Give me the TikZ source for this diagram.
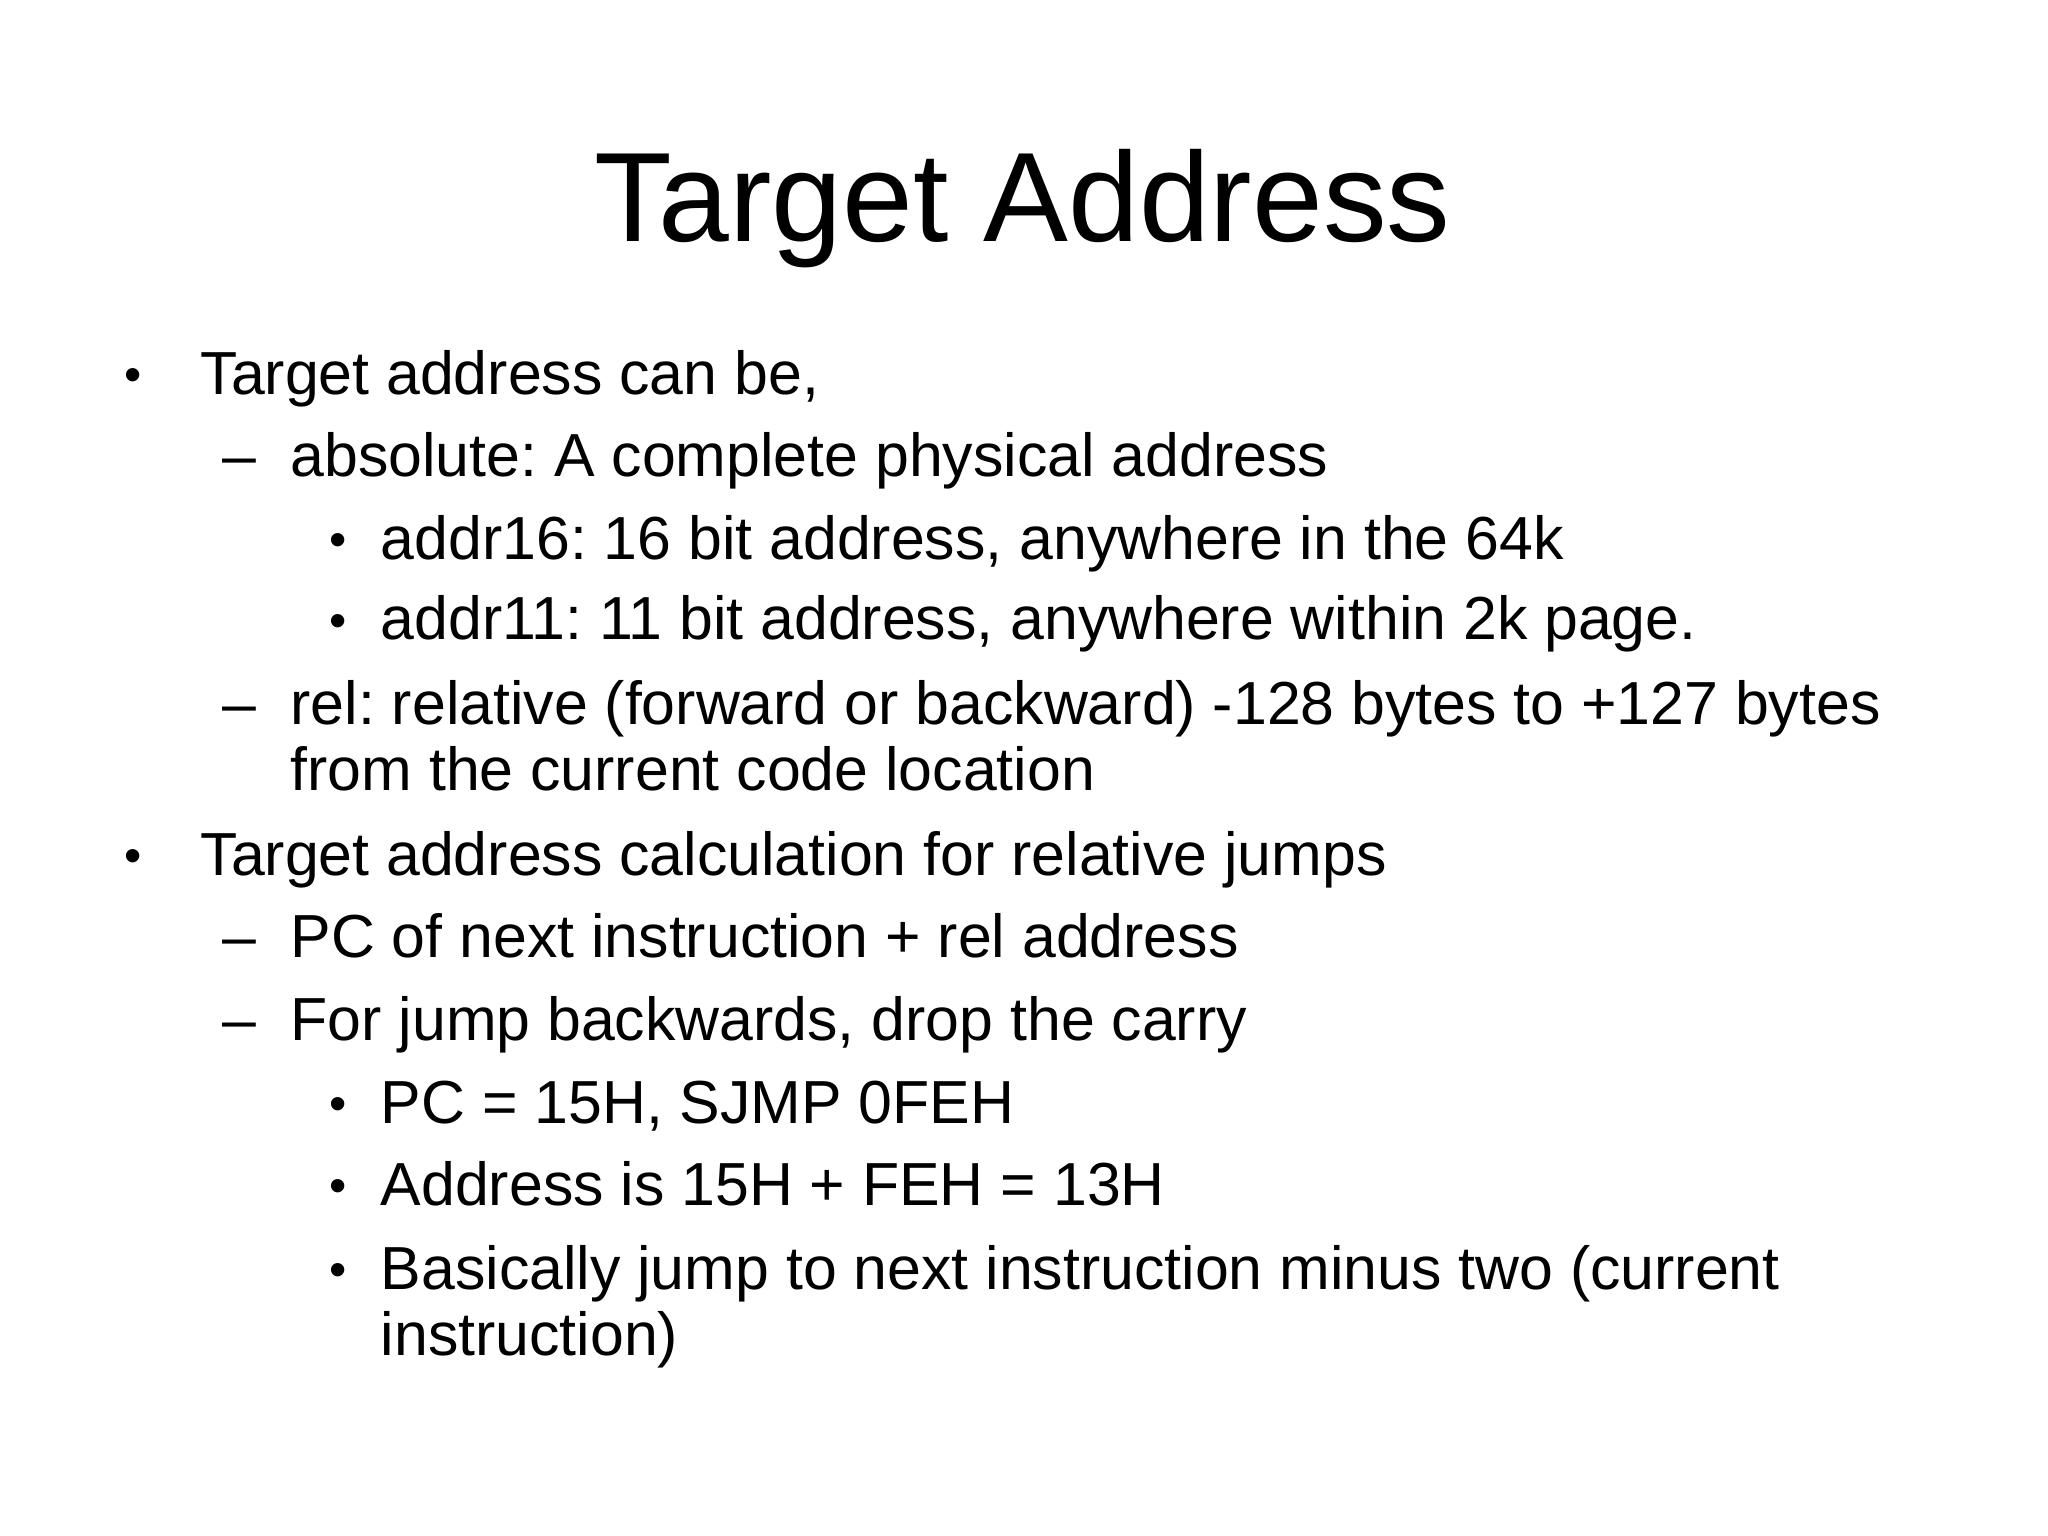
\documentclass[tikz,border=0pt]{standalone}
\usepackage{fontspec}
\setmainfont{Liberation Sans}
\frenchspacing
\begin{document}
\begin{tikzpicture}[x=0.013061cm,y=-0.013061cm,
  txt/.style={anchor=base west,inner sep=0pt,font=\frenchspacing\fontsize{17.3}{22}\selectfont},
  blt/.style={anchor=base west,inner sep=0pt,font=\fontsize{14}{22}\selectfont},
  ttl/.style={anchor=base,inner sep=0pt,font=\fontsize{36.2}{40}\selectfont}]
\useasboundingbox (0,0) rectangle (1568,1176);
\node[ttl] (title) at (783,185) {Target Address};
\node[blt] (b1) at (95,300) {•};
\node[txt] (t1) at (153,302) {Target address can be,};
\node[txt] (d1) at (170,365) {–};
\node[txt] (t2) at (222,365) {absolute: A complete physical address};
\node[blt] (s1) at (252,426) {•};
\node[txt] (t3) at (291,428) {addr16: 16 bit address, anywhere in the 64k};
\node[blt] (s2) at (252,488) {•};
\node[txt] (t4) at (291,490) {addr11: 11 bit address, anywhere within 2k page.};
\node[txt] (d2) at (170,555) {–};
\node[txt] (t5) at (222,555) {rel: relative (forward or backward) -128 bytes to +127 bytes};
\node[txt] (t5b) at (222,605) {from the current code location};
\node[blt] (b2) at (95,668) {•};
\node[txt] (t6) at (153,670) {Target address calculation for relative jumps};
\node[txt] (d3) at (170,733) {–};
\node[txt] (t7) at (222,733) {PC of next instruction + rel address};
\node[txt] (d4) at (170,797) {–};
\node[txt] (t8) at (222,797) {For jump backwards, drop the carry};
\node[blt] (s3) at (252,858) {•};
\node[txt] (t9) at (291,860) {PC = 15H, SJMP 0FEH};
\node[blt] (s4) at (252,921) {•};
\node[txt] (t10) at (291,923) {Address is 15H + FEH = 13H};
\node[blt] (s5) at (252,985) {•};
\node[txt] (t11) at (291,987) {Basically jump to next instruction minus two (current};
\node[txt] (t11b) at (291,1038) {instruction)};
\end{tikzpicture}
\end{document}
